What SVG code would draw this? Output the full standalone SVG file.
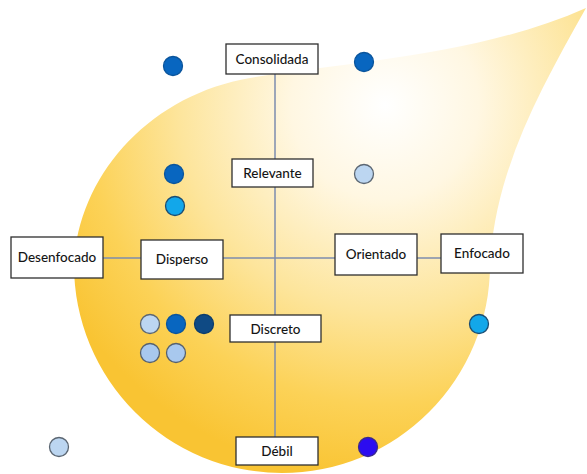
<svg xmlns="http://www.w3.org/2000/svg" width="587" height="474" viewBox="0 0 587 474">
  <defs>
    <radialGradient id="dropFill" gradientUnits="userSpaceOnUse" cx="385" cy="105" r="375">
      <stop offset="0" stop-color="#ffffff"/>
      <stop offset="0.25" stop-color="#fff7e2"/>
      <stop offset="0.55" stop-color="#fde59c"/>
      <stop offset="0.8" stop-color="#fcd257"/>
      <stop offset="1" stop-color="#f9c433"/>
    </radialGradient>
    <style>
      .box rect { fill: #ffffff; stroke: #2e2e2e; stroke-width: 1.3; }
      .box text { font-family: "Lato", "Liberation Sans", sans-serif; font-size: 13.5px; font-weight: 500; fill: #151515; text-anchor: middle; dominant-baseline: central; }
      .axis { stroke: #7d8cae; stroke-width: 1.5; fill: none; }
      .dot { stroke-width: 1.3; }
      .dark { fill: #0866c0; stroke: #0b559c; }
      .light { fill: #bcd6f1; stroke: #5b6672; }
      .light2 { fill: #a8c8ee; stroke: #56616e; }
      .cyan { fill: #12a7ea; stroke: #1c4d72; }
      .navy { fill: #0f4a84; stroke: #0d3d6c; }
      .violet { fill: #2c0cf0; stroke: #3a2a8c; }
    </style>
  </defs>

  <!-- yellow drop backdrop -->
  <path id="backdrop" fill="url(#dropFill)"
        d="M 586 8 C 540 90 495 170 490 265 A 208 208 0 0 1 74 265 C 78 175 150 95 250 78 C 350 62 480 55 586 8 Z"/>

  <!-- axes -->
  <g id="connectors">
    <line class="axis" x1="275" y1="74" x2="275" y2="437"/>
    <line class="axis" x1="103" y1="258" x2="441" y2="258"/>
  </g>

  <!-- axis labels -->
  <g id="consolidada" class="box"><rect x="226" y="44" width="92" height="30"/><text x="272" y="59">Consolidada</text></g>
  <g id="relevante" class="box"><rect x="232" y="159" width="81" height="28"/><text x="272.5" y="173">Relevante</text></g>
  <g id="desenfocado" class="box"><rect x="11" y="237" width="92" height="41"/><text x="57" y="257">Desenfocado</text></g>
  <g id="disperso" class="box"><rect x="141" y="240" width="82" height="39"/><text x="182" y="259">Disperso</text></g>
  <g id="orientado" class="box"><rect x="335" y="234" width="82" height="41"/><text x="376" y="254">Orientado</text></g>
  <g id="enfocado" class="box"><rect x="441" y="234" width="82" height="39"/><text x="482" y="253">Enfocado</text></g>
  <g id="discreto" class="box"><rect x="230" y="315" width="91" height="27"/><text x="275.5" y="328.5">Discreto</text></g>
  <g id="debil" class="box"><rect x="236" y="437" width="82" height="28"/><text x="277" y="451">Débil</text></g>

  <!-- markers -->
  <g id="dots">
    <circle class="dot dark" cx="173" cy="66" r="9.5"/>
    <circle class="dot dark" cx="364" cy="62" r="9.5"/>
    <circle class="dot dark" cx="174" cy="174" r="9.5"/>
    <circle class="dot light" cx="364" cy="174" r="9.5"/>
    <circle class="dot cyan" cx="175" cy="206" r="9.5"/>
    <circle class="dot light" cx="150" cy="324" r="9.5"/>
    <circle class="dot dark" cx="176" cy="324" r="9.5"/>
    <circle class="dot navy" cx="204" cy="324" r="9.5"/>
    <circle class="dot light2" cx="150" cy="353" r="9.5"/>
    <circle class="dot light2" cx="176" cy="353" r="9.5"/>
    <circle class="dot cyan" cx="479" cy="324" r="9.5"/>
    <circle class="dot light" cx="59" cy="447" r="9.5"/>
    <circle class="dot violet" cx="368" cy="447" r="9.5"/>
  </g>
</svg>
